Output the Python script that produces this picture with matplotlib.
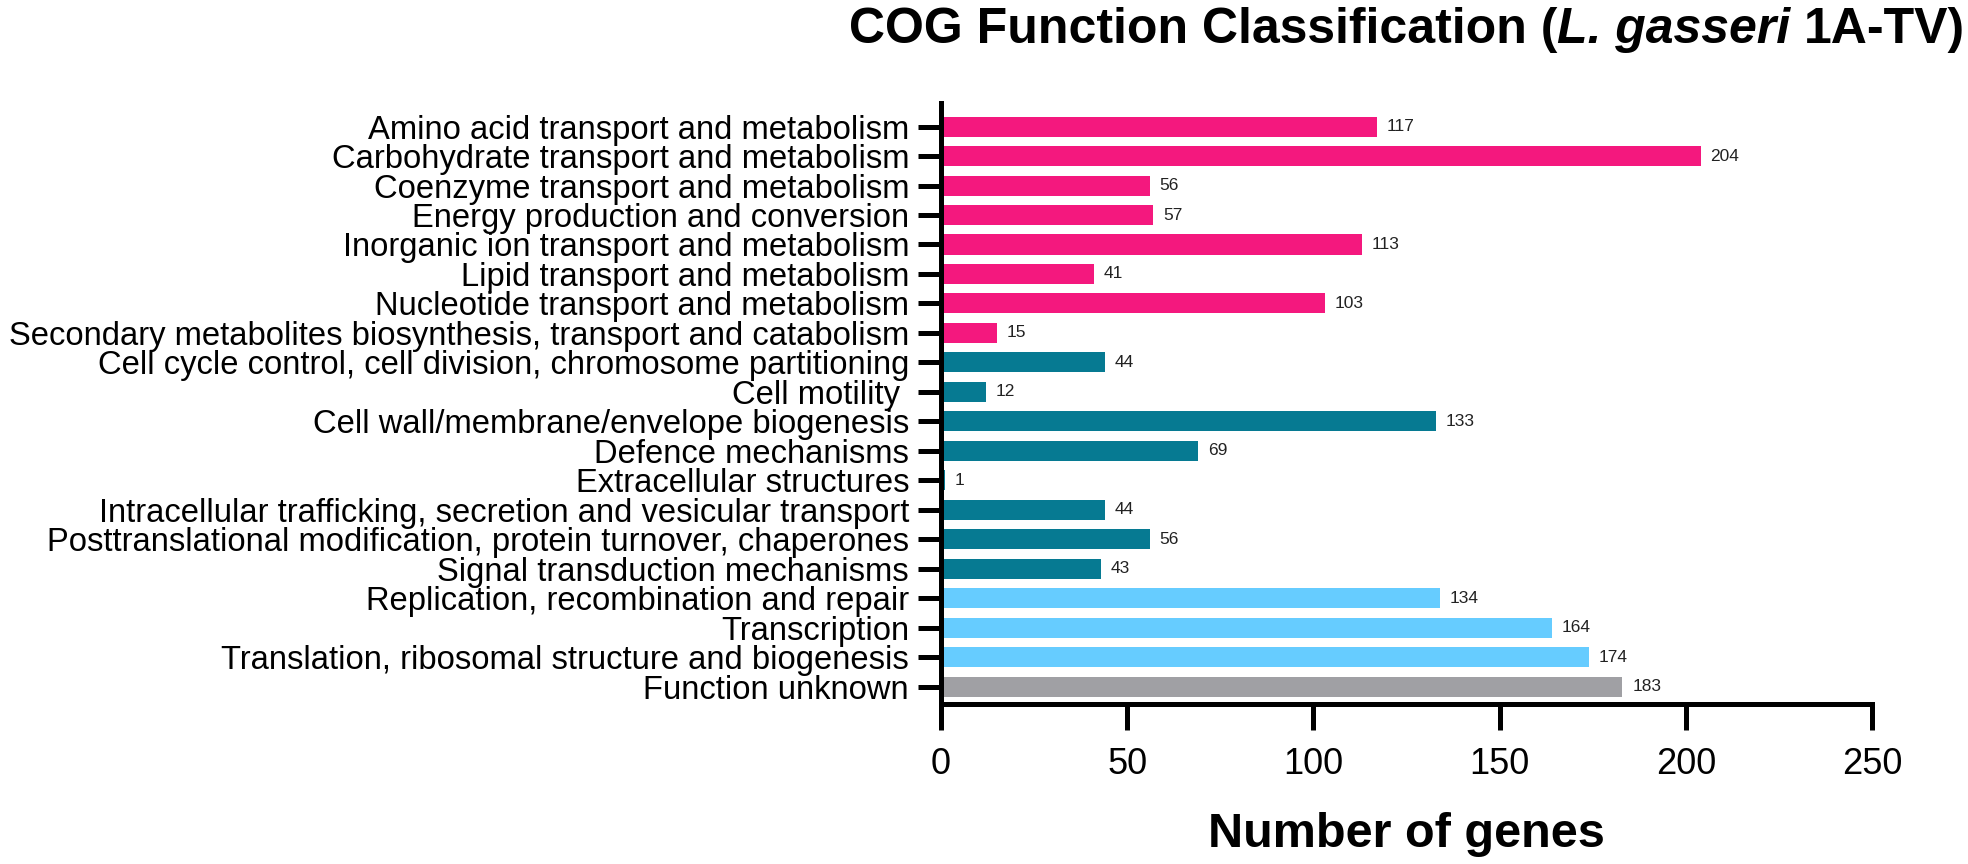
import matplotlib
matplotlib.use("Agg")
import matplotlib.pyplot as plt

plt.rcParams['font.family'] = ['Liberation Sans', 'DejaVu Sans']

categories = [
    "Amino acid transport and metabolism",
    "Carbohydrate transport and metabolism",
    "Coenzyme transport and metabolism",
    "Energy production and conversion",
    "Inorganic ion transport and metabolism",
    "Lipid transport and metabolism",
    "Nucleotide transport and metabolism",
    "Secondary metabolites biosynthesis, transport and catabolism",
    "Cell cycle control, cell division, chromosome partitioning",
    "Cell motility ",
    "Cell wall/membrane/envelope biogenesis",
    "Defence mechanisms",
    "Extracellular structures",
    "Intracellular trafficking, secretion and vesicular transport",
    "Posttranslational modification, protein turnover, chaperones",
    "Signal transduction mechanisms",
    "Replication, recombination and repair",
    "Transcription",
    "Translation, ribosomal structure and biogenesis",
    "Function unknown",
]
values = [117, 204, 56, 57, 113, 41, 103, 15, 44, 12, 133, 69, 1, 44, 56, 43, 134, 164, 174, 183]
groups = ["metab"] * 8 + ["cell"] * 8 + ["info"] * 3 + ["unknown"]
group_colors = {"metab": "#F4187E", "cell": "#067A92", "info": "#66CCFF", "unknown": "#A0A0A4"}
xticks = [0, 50, 100, 150, 200, 250]

W, H = 1968, 864
fig = plt.figure(figsize=(W / 100, H / 100), dpi=100)
ax = fig.add_axes([941 / W, 1 - 704 / H, (1872 - 941) / W, (704 - 103) / H])

ypos = list(range(len(categories)))
colors = [group_colors[g] for g in groups]
bars = ax.barh(ypos, values, height=0.68, color=colors, edgecolor='none')
ax.bar_label(bars, labels=[str(v) for v in values], padding=7, fontsize=12.5, color='#222222')

ax.set_ylim(19.59, -0.80)
ax.set_xlim(0, 250)
ax.set_yticks(ypos)
ax.set_yticklabels(categories, fontsize=23.6)
ax.set_xticks(xticks)
ax.set_xticklabels([str(t) for t in xticks], fontsize=26)

for s in ['top', 'right']:
    ax.spines[s].set_visible(False)
for s in ['left', 'bottom']:
    ax.spines[s].set_linewidth(3.6)
    ax.spines[s].set_capstyle('projecting')

ax.tick_params(axis='x', length=18.7, width=3.6, pad=12)
ax.tick_params(axis='y', length=16.5, width=3.6, pad=6.5)

ax.set_xlabel("Number of genes", fontsize=35, fontweight='bold', labelpad=22)

# Title with italic species name
renderer = fig.canvas.get_renderer()
ty = 1 - 43 / H
fs = 36
parts = [("COG Function Classification (", 'normal'), ("L. gasseri", 'italic'), (" 1A-TV)", 'normal')]
texts = []
for txt, style in parts:
    t = fig.text(0, ty, txt, fontsize=fs, fontweight='bold', fontstyle=style, va='baseline', ha='left')
    texts.append(t)
widths = [t.get_window_extent(renderer).width for t in texts]
space_w = fs * 100 / 72 * 0.278
total = sum(widths) + space_w
x = 1414 - total / 2
for i, t in enumerate(texts):
    if i == 2:
        t.set_text("1A-TV)")
        widths[2] = t.get_window_extent(renderer).width
        x += space_w
    t.set_x(x / W)
    x += widths[i]

fig.savefig("out.png", dpi=100)
